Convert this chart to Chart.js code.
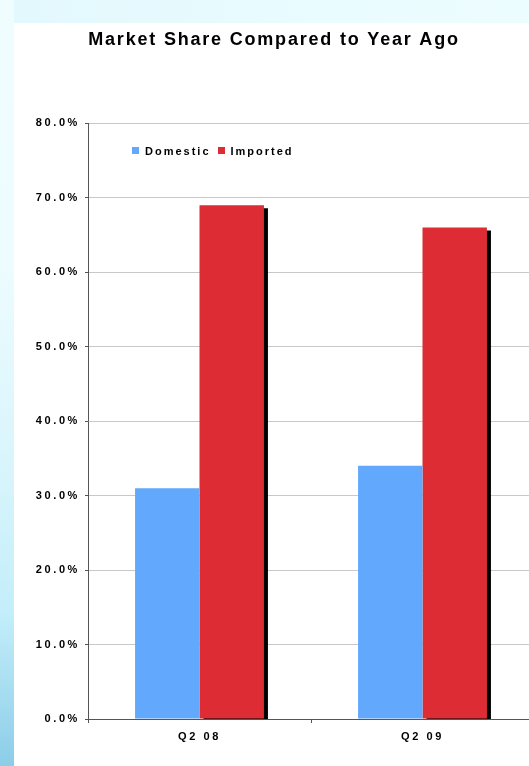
<!DOCTYPE html>
<html>
<head>
<meta charset="utf-8">
<script src="https://cdn.jsdelivr.net/npm/chart.js@4"></script>
<style>
  html, body { margin: 0; padding: 0; width: 529px; height: 766px; overflow: hidden; background: #ffffff; }
  #topstrip { position: absolute; left: 0; top: 0; width: 529px; height: 23px;
    background: linear-gradient(to right, #e3f8fd, #e9fcff 60%, #edfdff); }
  #leftstrip { position: absolute; left: 0; top: 0; width: 14px; height: 766px;
    background: linear-gradient(to bottom, #f0fdff 0%, #ecfcff 35%, #d9f5fc 60%, #c3eefa 80%, #8ccde8 100%); }
  #wrap { position: absolute; left: 14px; top: 23px; width: 526px; height: 743px; background: #ffffff; }
  #legend { position: absolute; left: 132px; top: 145px; display: flex; align-items: flex-start;
    font-family: "Liberation Sans", Arial, sans-serif; font-weight: bold; font-size: 11px; line-height: 13px;
    letter-spacing: 2px; color: #000; }
  .item { display: flex; align-items: flex-start; margin-right: 7px; }
  .sw { width: 7px; height: 7px; margin-top: 2px; margin-right: 6px; }
</style>
</head>
<body>
<div id="topstrip"></div>
<div id="leftstrip"></div>
<div id="wrap"><canvas id="c" width="526" height="743"></canvas></div>
<div id="legend"></div>
<script>
// ---- data ----
const categories = ['Q2 08', 'Q2 09'];
const seriesNames = ['Domestic', 'Imported'];
const domestic = [31.0, 34.0];
const imported = [69.0, 66.0];
const yMin = 0, yMax = 80, yStep = 10;
const titleText = 'Market Share Compared to Year Ago';

const colors = ['#62a8fd', '#dd2c33'];
const FONT = '"Liberation Sans", Arial, sans-serif';

// letter spacing + shadow plugin
const stylePlugin = {
  id: 'styleTweaks',
  beforeUpdate(chart) { chart.ctx.letterSpacing = '2.6px'; },
  beforeDraw(chart) {
    chart.ctx.letterSpacing = '2.6px';
    const t = chart.titleBlock;
    if (t && !t._wrapped) {
      const orig = t.draw.bind(t);
      t.draw = function () {
        const ctx = chart.ctx;
        const prev = ctx.letterSpacing;
        ctx.letterSpacing = '1.8px';
        orig();
        ctx.letterSpacing = prev;
      };
      t._wrapped = true;
    }
  },
  beforeDatasetDraw(chart, args) {
    if (args.index === 1) {
      const ctx = chart.ctx;
      ctx.save();
      ctx.shadowColor = '#000000';
      ctx.shadowOffsetX = 4;
      ctx.shadowOffsetY = 3;
      ctx.shadowBlur = 0;
    }
  },
  afterDatasetDraw(chart, args) {
    if (args.index === 1) chart.ctx.restore();
  }
};

const chart = new Chart(document.getElementById('c'), {
  type: 'bar',
  data: {
    labels: categories,
    datasets: [
      { label: seriesNames[0], data: domestic, backgroundColor: colors[0], borderWidth: 0,
        categoryPercentage: 0.578, barPercentage: 1.0, clip: 0 },
      { label: seriesNames[1], data: imported, backgroundColor: colors[1], borderWidth: 0,
        categoryPercentage: 0.578, barPercentage: 1.0, clip: 0 }
    ]
  },
  options: {
    responsive: false,
    animation: false,
    devicePixelRatio: 1,
    layout: { padding: { left: 0, right: 6, top: 0, bottom: 0 } },
    plugins: {
      legend: { display: false },
      tooltip: { enabled: false },
      title: {
        display: true, text: titleText, color: '#000',
        font: { family: FONT, size: 18, weight: 'bold', lineHeight: 1.2 },
        padding: { top: 6, bottom: 72.7 }
      }
    },
    scales: {
      x: {
        grid: { drawOnChartArea: false, offset: true, tickLength: 4, tickColor: '#555', tickWidth: 1 },
        border: { color: '#555', width: 1 },
        ticks: { color: '#000', padding: 7, font: { family: FONT, size: 11, weight: 'bold' } },
        afterFit(s) { s.height = 47; }
      },
      y: {
        min: yMin, max: yMax,
        grid: { color: '#c8c8c8', lineWidth: 1, tickLength: 3, tickColor: '#555' },
        border: { color: '#555', width: 1 },
        ticks: { stepSize: yStep, color: '#000', padding: 5,
          font: { family: FONT, size: 11, weight: 'bold' },
          callback: v => v.toFixed(1) + '%' },
        afterFit(s) { s.width = 74; }
      }
    }
  },
  plugins: [stylePlugin]
});

// HTML legend built from the chart's datasets
const lg = document.getElementById('legend');
chart.data.datasets.forEach(ds => {
  const it = document.createElement('div'); it.className = 'item';
  const sw = document.createElement('div'); sw.className = 'sw'; sw.style.background = ds.backgroundColor;
  const tx = document.createElement('span'); tx.textContent = ds.label;
  it.appendChild(sw); it.appendChild(tx); lg.appendChild(it);
});
</script>
</body>
</html>
